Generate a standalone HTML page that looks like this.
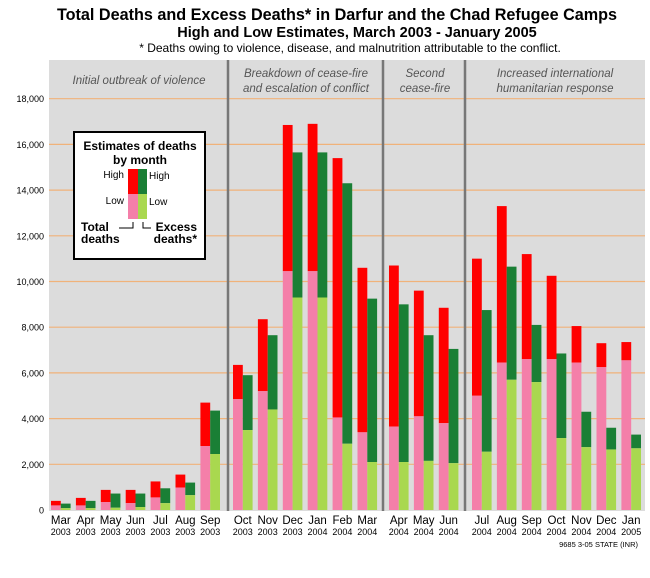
<!DOCTYPE html>
<html><head><meta charset="utf-8"><style>
body{margin:0;background:#fff;width:650px;height:573px;overflow:hidden;font-family:"Liberation Sans",Arial,sans-serif}
svg text{font-family:"Liberation Sans",Arial,sans-serif}
</style></head><body>
<svg id="chart" width="650" height="573" viewBox="0 0 650 573">
<text x="337" y="20" text-anchor="middle" font-size="16.2" font-weight="bold">Total Deaths and Excess Deaths* in Darfur and the Chad Refugee Camps</text>
<text x="357" y="37" text-anchor="middle" font-size="14.5" font-weight="bold">High and Low Estimates, March 2003 - January 2005</text>
<text x="350" y="52" text-anchor="middle" font-size="12">* Deaths owing to violence, disease, and malnutrition attributable to the conflict.</text>
<rect x="49" y="60" width="596" height="451" fill="#dcdcdc"/>
<g id="grid"></g>
<g id="bars"></g>
<g id="seps"></g>
<g id="labels"></g>
<text x="139" y="84" text-anchor="middle" font-size="11.5" font-style="italic" fill="#555">Initial outbreak of violence</text>
<text x="306" y="77" text-anchor="middle" font-size="11.5" font-style="italic" fill="#555">Breakdown of cease-fire</text>
<text x="306" y="92" text-anchor="middle" font-size="11.5" font-style="italic" fill="#555">and escalation of conflict</text>
<text x="425" y="77" text-anchor="middle" font-size="11.5" font-style="italic" fill="#555">Second</text>
<text x="425" y="92" text-anchor="middle" font-size="11.5" font-style="italic" fill="#555">cease-fire</text>
<text x="555" y="77" text-anchor="middle" font-size="11.5" font-style="italic" fill="#555">Increased international</text>
<text x="555" y="92" text-anchor="middle" font-size="11.5" font-style="italic" fill="#555">humanitarian response</text>
<g>
<rect x="74" y="132" width="131" height="127" fill="#fff" stroke="#000" stroke-width="2"/>
<text x="140" y="150" text-anchor="middle" font-size="12" font-weight="bold">Estimates of deaths</text>
<text x="140" y="164" text-anchor="middle" font-size="12" font-weight="bold">by month</text>
<rect x="128" y="169" width="10" height="25" fill="#ff0000"/>
<rect x="138" y="169" width="9" height="25" fill="#1a7f35"/>
<rect x="128" y="194" width="10" height="25" fill="#f47fa9"/>
<rect x="138" y="194" width="9" height="25" fill="#a9d84f"/>
<text x="124" y="178" text-anchor="end" font-size="10">High</text>
<text x="149" y="179" font-size="10">High</text>
<text x="124" y="204" text-anchor="end" font-size="10">Low</text>
<text x="149" y="205" font-size="10">Low</text>
<path d="M119 228 H133 V222 M143 222 V228 H151" fill="none" stroke="#000" stroke-width="1"/>
<text x="81" y="231" font-size="12" font-weight="bold">Total</text>
<text x="81" y="243" font-size="12" font-weight="bold">deaths</text>
<text x="197" y="231" text-anchor="end" font-size="12" font-weight="bold">Excess</text>
<text x="197" y="243" text-anchor="end" font-size="12" font-weight="bold">deaths*</text>
</g>
<text x="638" y="547" text-anchor="end" font-size="7.5">9685 3-05 STATE (INR)</text>
</svg>
<script>
const months=["Mar","Apr","May","Jun","Jul","Aug","Sep","Oct","Nov","Dec","Jan","Feb","Mar","Apr","May","Jun","Jul","Aug","Sep","Oct","Nov","Dec","Jan"];
const years=["2003","2003","2003","2003","2003","2003","2003","2003","2003","2003","2004","2004","2004","2004","2004","2004","2004","2004","2004","2004","2004","2004","2005"];
const totalHigh=[400,530,880,880,1250,1550,4700,6350,8350,16850,16900,15400,10600,10700,9600,8850,11000,13300,11200,10250,8050,7300,7350];
const totalLow=[200,200,350,300,550,980,2800,4850,5200,10450,10450,4050,3400,3650,4100,3800,5000,6450,6600,6600,6450,6250,6550];
const excessHigh=[280,400,720,720,950,1200,4350,5900,7650,15650,15650,14300,9250,9000,7650,7050,8750,10650,8100,6850,4300,3600,3300];
const excessLow=[80,80,100,130,300,650,2450,3500,4400,9300,9300,2900,2100,2100,2150,2050,2550,5700,5600,3150,2750,2650,2700];
const yTicks=[0,2000,4000,6000,8000,10000,12000,14000,16000,18000];
const ns="http://www.w3.org/2000/svg";
function y(v){return 510-v*0.02285;}
function xIdx(i){let g=i>=7?7.7:0; g+=i>=13?6.6:0; g+=i>=16?8.3:0; return 51+i*24.9+g;}
function mk(p,t,a){const e=document.createElementNS(ns,t);for(const k in a)e.setAttribute(k,a[k]);p.appendChild(e);return e;}
const G=document.getElementById('grid'),B=document.getElementById('bars'),S=document.getElementById('seps'),L=document.getElementById('labels');
yTicks.forEach(v=>{
 if(v>0){const l=mk(G,'line',{x1:49,x2:645,y1:y(v),y2:y(v),stroke:'#f0b27a','stroke-width':1.2});
 
 }
 const t=mk(L,'text',{x:44,y:y(v)+3.5,'text-anchor':'end','font-size':9});t.textContent=v.toLocaleString('en-US');
 
 
});
months.forEach((m,i)=>{
 const x=xIdx(i),w=9.8;
 const r1=mk(B,'rect',{x:x,y:y(totalHigh[i]),width:w,height:y(totalLow[i])-y(totalHigh[i]),fill:'#ff0000'});
 
 
 const r2=mk(B,'rect',{x:x,y:y(totalLow[i]),width:w,height:510-y(totalLow[i]),fill:'#f47fa9'});
 
 
 const r3=mk(B,'rect',{x:x+w,y:y(excessHigh[i]),width:w,height:y(excessLow[i])-y(excessHigh[i]),fill:'#1a7f35'});
 
 
 const r4=mk(B,'rect',{x:x+w,y:y(excessLow[i]),width:w,height:510-y(excessLow[i]),fill:'#a9d84f'});
 
 
 const t=mk(L,'text',{x:x+w,y:524,'text-anchor':'middle','font-size':11.5});t.textContent=m;
 
 
 const t2=mk(L,'text',{x:x+w,y:535,'text-anchor':'middle','font-size':9});t2.textContent=years[i];
 
 
});
[228,383,465].forEach(sx=>{const l=mk(S,'line',{x1:sx,x2:sx,y1:60,y2:511,stroke:'#777','stroke-width':2.5});
 
 });
</script>
</body></html>
